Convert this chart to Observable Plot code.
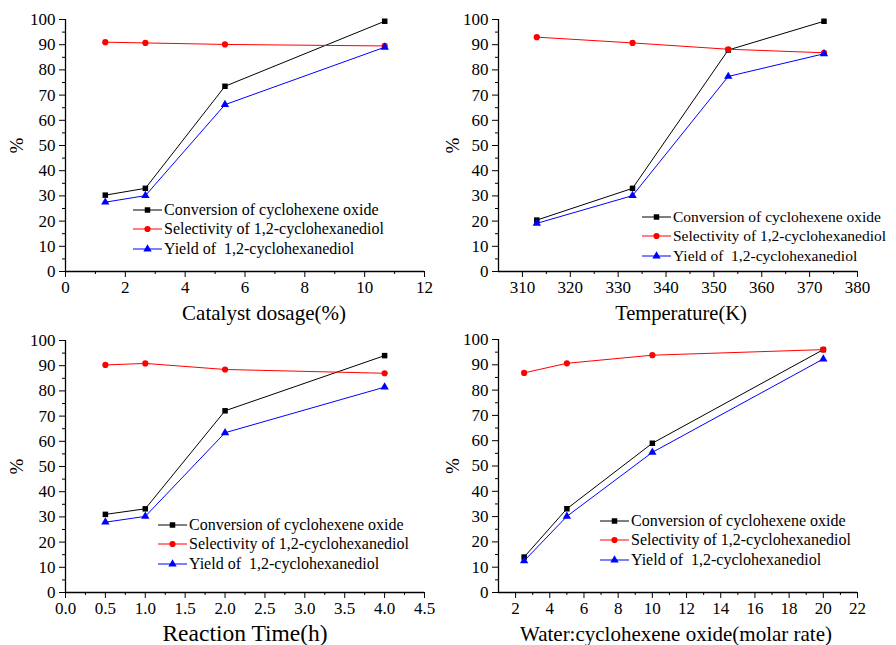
<!DOCTYPE html>
<html><head><meta charset="utf-8">
<script src="https://cdn.jsdelivr.net/npm/d3@7"></script>
<script src="https://cdn.jsdelivr.net/npm/@observablehq/plot@0.6"></script>
<style>
body{margin:0;background:#fff;}
#chart{position:relative;width:896px;height:645px;overflow:hidden;font-family:"Liberation Serif","Times New Roman",serif;background:#fff;}
.panel{position:absolute;}
.panel svg, .panel svg text{font-family:"Liberation Serif","Times New Roman",serif !important;}
.panel g[aria-label="y-axis label"]{font-size:19px;}
.legend{position:absolute;font-size:16px;color:#000;}
.legend .row{display:flex;align-items:center;height:19.6px;white-space:pre;}
.legend svg{display:block;}
</style></head>
<body><div id="chart"></div>
<script>
const seriesNames = ["Conversion of cyclohexene oxide", "Selectivity of 1,2-cyclohexanediol", "Yield of  1,2-cyclohexanediol"];
const seriesColors = ["#000000", "#ff0000", "#0000ff"];
const seriesSymbols = ["square", "circle", "triangle"];

const catalystDosage = [1.33, 2.67, 5.33, 10.67];
const dosageConversion = [30.3, 33.0, 73.5, 99.3];
const dosageSelectivity = [91.0, 90.7, 90.1, 89.5];
const dosageYield = [27.5, 30.1, 66.2, 89.0];

const temperature = [313, 333, 353, 373];
const tempConversion = [20.4, 33.0, 87.9, 99.3];
const tempSelectivity = [93.0, 90.7, 88.2, 86.8];
const tempYield = [19.1, 30.1, 77.4, 86.4];

const reactionTime = [0.5, 1, 2, 4];
const timeConversion = [31.0, 33.2, 72.1, 94.0];
const timeSelectivity = [90.3, 90.9, 88.5, 87.0];
const timeYield = [27.9, 30.2, 63.4, 81.5];

const waterRatio = [2.5, 5, 10, 20];
const ratioConversion = [14.0, 33.1, 59.0, 96.0];
const ratioSelectivity = [86.8, 90.6, 93.8, 96.0];
const ratioYield = [12.5, 30.1, 55.4, 92.3];

const yTicks = [0, 10, 20, 30, 40, 50, 60, 70, 80, 90, 100];
const yMinorTicks = [5, 15, 25, 35, 45, 55, 65, 75, 85, 95];
const dosageTicks = [0, 2, 4, 6, 8, 10, 12];
const dosageMinor = [1, 3, 5, 7, 9, 11];
const tempTicks = [310, 320, 330, 340, 350, 360, 370, 380];
const tempMinor = [315, 325, 335, 345, 355, 365, 375];
const timeTicks = [0, 0.5, 1, 1.5, 2, 2.5, 3, 3.5, 4, 4.5];
const timeMinor = [0.25, 0.75, 1.25, 1.75, 2.25, 2.75, 3.25, 3.75, 4.25];
const ratioTicks = [2, 4, 6, 8, 10, 12, 14, 16, 18, 20, 22];
const ratioMinor = [3, 5, 7, 9, 11, 13, 15, 17, 19, 21];

const chart = document.getElementById("chart");
const markerR = 3.1;

function makePanel(cfg) {
  const rows = cfg.series.flatMap((vals, i) => cfg.x.map((xv, j) => ({x: xv, y: vals[j], s: seriesNames[i]})));
  const plot = Plot.plot({
    width: cfg.width, height: cfg.height,
    marginLeft: cfg.m[0], marginRight: cfg.m[1], marginTop: cfg.m[2], marginBottom: cfg.m[3],
    style: {fontFamily: "'Liberation Serif', serif", fontSize: "17px", color: "#000", background: "transparent", overflow: "visible"},
    x: {domain: cfg.xDomain},
    y: {domain: [0, 100]},
    color: {domain: seriesNames, range: seriesColors},
    symbol: {domain: seriesNames, range: seriesSymbols},
    marks: [
      Plot.axisY({ticks: yTicks, tickSize: 6, tickPadding: 4, label: "%", labelAnchor: "center", labelOffset: cfg.yLabelOffset, labelArrow: "none", fontSize: 17}),
      Plot.axisY({ticks: yMinorTicks, tickSize: 3, text: null, label: null}),
      Plot.axisX({ticks: cfg.xTicks, tickSize: 6, tickPadding: 3, tickFormat: cfg.xFormat, label: cfg.xLabel, labelAnchor: "center", labelOffset: 48, labelArrow: "none", fontSize: 17}),
      Plot.axisX({ticks: cfg.xMinor, tickSize: 3, text: null, label: null}),
      Plot.ruleX([cfg.xDomain[0]], {stroke: "#000", strokeWidth: 1.3}),
      Plot.ruleY([0], {stroke: "#000", strokeWidth: 1.3}),
      Plot.line(rows, {x: "x", y: "y", z: "s", stroke: "s", strokeWidth: 1}),
      Plot.dot(rows, {x: "x", y: "y", fill: "s", symbol: "s", r: markerR, stroke: "none"})
    ]
  });
  const xl = plot.querySelector('g[aria-label="x-axis label"]');
  if (xl) {
    xl.style.fontSize = cfg.xLabelSize + "px";
    xl.querySelectorAll("text").forEach(t => t.setAttribute("dx", cfg.xLabelDx));
  }
  const div = document.createElement("div");
  div.className = "panel";
  div.style.left = cfg.left + "px";
  div.style.top = cfg.top + "px";
  div.appendChild(plot);
  chart.appendChild(div);

  const leg = document.createElement("div");
  leg.className = "legend";
  leg.style.left = cfg.legend[0] + "px";
  leg.style.top = cfg.legend[1] + "px";
  leg.style.fontSize = cfg.legend[2] + "px";
  seriesNames.forEach((name, i) => {
    const row = document.createElement("div");
    row.className = "row";
    const svg = d3.create("svg").attr("width", 31).attr("height", 12);
    svg.append("line").attr("x1", 0).attr("x2", 29).attr("y1", 6).attr("y2", 6)
      .attr("stroke", seriesColors[i]).attr("stroke-width", 1);
    const sym = [d3.symbolSquare, d3.symbolCircle, d3.symbolTriangle][i];
    svg.append("path").attr("d", d3.symbol(sym, Math.PI * markerR * markerR)())
      .attr("transform", "translate(14.5,6)").attr("fill", seriesColors[i]);
    row.appendChild(svg.node());
    const t = document.createElement("span");
    t.textContent = name;
    row.appendChild(t);
    leg.appendChild(row);
  });
  chart.appendChild(leg);
}

makePanel({x: catalystDosage, series: [dosageConversion, dosageSelectivity, dosageYield],
  xDomain: [0, 12], xTicks: dosageTicks, xMinor: dosageMinor, xFormat: d3.format("d"), xLabel: "Catalyst dosage(%)",
  xLabelSize: 21, xLabelDx: 19, yLabelOffset: 56,
  left: 0, top: 0, width: 448, height: 322, m: [65, 24, 19, 51], legend: [133, 200, 16]});
makePanel({x: temperature, series: [tempConversion, tempSelectivity, tempYield],
  xDomain: [305, 380], xTicks: tempTicks, xMinor: tempMinor, xFormat: d3.format("d"), xLabel: "Temperature(K)",
  xLabelSize: 20.5, xLabelDx: 3, yLabelOffset: 53,
  left: 448, top: 0, width: 448, height: 322, m: [50, 39, 19, 51], legend: [642, 207, 15.5]});
makePanel({x: reactionTime, series: [timeConversion, timeSelectivity, timeYield],
  xDomain: [0, 4.5], xTicks: timeTicks, xMinor: timeMinor, xFormat: d3.format(".1f"), xLabel: "Reaction Time(h)",
  xLabelSize: 23.5, xLabelDx: 0, yLabelOffset: 56,
  left: 0, top: 322, width: 448, height: 323, m: [65, 24, 18, 53], legend: [158, 515, 16]});
makePanel({x: waterRatio, series: [ratioConversion, ratioSelectivity, ratioYield],
  xDomain: [1, 22], xTicks: ratioTicks, xMinor: ratioMinor, xFormat: d3.format("d"), xLabel: "Water:cyclohexene oxide(molar rate)",
  xLabelSize: 21, xLabelDx: -2, yLabelOffset: 53,
  left: 448, top: 322, width: 448, height: 323, m: [50, 39, 17, 53], legend: [600, 511, 16]});
</script>
</body></html>
